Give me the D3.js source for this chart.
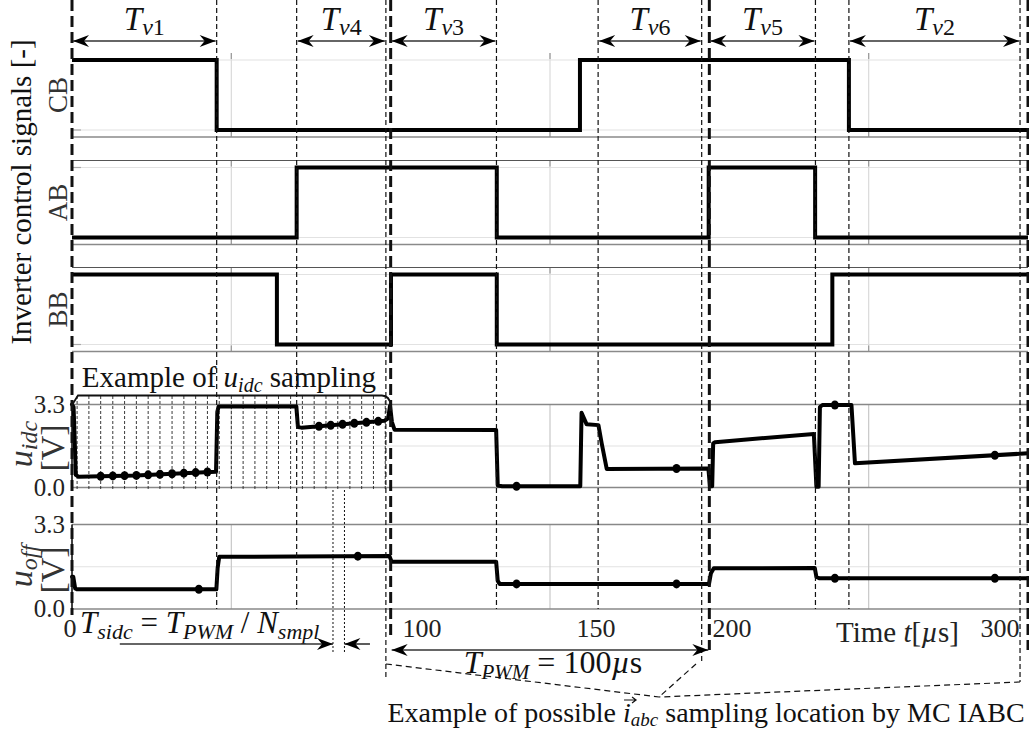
<!DOCTYPE html>
<html>
<head>
<meta charset="utf-8">
<script src="https://cdn.jsdelivr.net/npm/d3@7"></script>
<style>
  body { margin: 0; background: #fff; }
  svg { display: block; }
  text { font-family: "Liberation Serif", "Times New Roman", Times, "DejaVu Serif", serif; fill: #111; }
</style>
</head>
<body>
<svg id="chart" width="1029" height="731" font-family="Liberation Serif, Times New Roman, serif"></svg>
<script>
// ---------- data (time in µs, voltages in V) ----------
const timeDomain = [0, 300];
const gridTimes = [50, 150, 250];
const pwmBoundaries = [0, 100, 200, 300];
const switchTimes = [45.4, 70.5, 98.5, 133.2, 165.1, 197.6, 233.3, 243.8, 297.5];

const vectorNames = ["v1", "v4", "v3", "v6", "v5", "v2"];
const vectorStart = [0, 70.5, 100, 165.1, 200, 243.8];
const vectorEnd = [45.4, 98.5, 133.2, 197.6, 233.3, 297.5];

const gateNames = ["CB", "AB", "BB"];
// step signals as [time, level] (level held until next point)
const cbSignal = [[0, 1], [45.4, 0], [159.4, 1], [243.8, 0], [300, 0]];
const abSignal = [[0, 0], [70.5, 1], [133.3, 0], [199.8, 1], [233.2, 0], [300, 0]];
const bbSignal = [[0, 1], [64.3, 0], [100.1, 1], [133.3, 0], [238.6, 1], [300, 1]];

// DC-link current sensor voltage u_idc
const uIdc = [
  [0, 3.3], [0.5, 3.2], [1.2, 0.5], [2, 0.43], [20, 0.48], [40, 0.6], [45.2, 0.63],
  [45.6, 3.0], [46.0, 3.22], [70.4, 3.22], [70.9, 2.4], [72, 2.38], [98, 2.65],
  [99.2, 2.75], [99.8, 3.25], [100.4, 2.6], [101.2, 2.3], [133.1, 2.29],
  [133.6, 0.08], [135, 0.05], [159.5, 0.05], [159.9, 2.97], [161.5, 2.51],
  [165.2, 2.48], [166.2, 1.77], [167.8, 0.74], [199.7, 0.76], [200.2, 0.05],
  [200.9, 0.05], [201.2, 1.75], [201.8, 1.8], [232.8, 2.13], [233.6, 0.03],
  [234.3, 0.03], [234.7, 3.2], [235.5, 3.28], [244.6, 3.28], [245.7, 0.96],
  [300, 1.36]
];
// offset voltage u_off
const uOff = [
  [0, 1.26], [0.4, 1.26], [1.0, 0.8], [1.5, 0.77], [45.3, 0.77], [45.7, 1.6],
  [46.2, 2.04], [70, 2.05], [99.6, 2.07], [100.3, 1.85], [133.1, 1.85],
  [133.6, 1.1], [134.2, 0.98], [199.9, 0.98], [200.5, 1.4], [201.4, 1.59],
  [233.1, 1.6], [233.6, 1.25], [234.6, 1.2], [300, 1.2]
];

// u_idc sampling instants (T_sidc spacing) over the first PWM period
const sampleTimes = [1.6, 5.3, 9.0, 12.8, 16.5, 20.2, 23.9, 27.6, 31.4, 35.1, 38.8,
  42.5, 46.2, 50.0, 53.7, 57.4, 61.1, 64.8, 68.6, 72.3, 76.0, 79.7, 83.4, 87.2,
  90.9, 94.6, 98.3];
const uIdcDotTimes = [9.0, 12.8, 16.5, 20.2, 23.9, 27.6, 31.4, 35.1, 38.8, 42.5,
  77.5, 81.2, 84.9, 88.6, 92.4, 96.1, 139.5, 189.7, 239.4, 289.6];
const uOffDotTimes = [39.8, 89.7, 139.5, 189.7, 239.4, 289.6];
const sidcMarkTimes = [81.9, 85.5];

const voltTicks = ["0.0", "3.3"];
const voltMax = 3.3;
const timeTickLabels = ["0", "100", "150", "200", "300"];

// ---------- layout ----------
const svg = d3.select("#chart");
const x = d3.scaleLinear().domain(timeDomain).range([72, 1028]);
const digitalTops = [53, 160.5, 267.5];
const digitalH = 84;
const idcY = d3.scaleLinear().domain([0, voltMax]).range([487.5, 404.5]);
const offY = d3.scaleLinear().domain([0, voltMax]).range([609, 524.5]);

function valueAt(series, t) {
  for (let i = 1; i < series.length; i++) {
    if (t <= series[i][0]) {
      const [t0, v0] = series[i - 1], [t1, v1] = series[i];
      return v0 + (v1 - v0) * (t - t0) / (t1 - t0);
    }
  }
  return series[series.length - 1][1];
}

const gridG = svg.append("g");
const markG = svg.append("g");
const annG = svg.append("g");

// ---------- digital panels ----------
const gateData = [cbSignal, abSignal, bbSignal];
gateNames.forEach((name, i) => {
  const top = digitalTops[i], bot = top + digitalH;
  const y = d3.scaleLinear().domain([-0.1, 1.1]).range([bot, top]);
  [0, 1].forEach(v => gridG.append("line").attr("x1", x(0)).attr("x2", x(300))
    .attr("y1", y(v)).attr("y2", y(v)).attr("stroke", "#e2e2e2").attr("stroke-width", 1.2));
  gridTimes.forEach(t => {
    gridG.append("line").attr("x1", x(t)).attr("x2", x(t)).attr("y1", top).attr("y2", bot)
      .attr("stroke", "#dadada").attr("stroke-width", 1.2);
    [top, bot - 6].forEach(yy => gridG.append("line").attr("x1", x(t)).attr("x2", x(t))
      .attr("y1", yy).attr("y2", yy + 6).attr("stroke", "#999").attr("stroke-width", 1.2));
  });
  [0, 1].forEach(v => gridG.append("line").attr("x1", x(0)).attr("x2", x(0) + 9)
    .attr("y1", y(v)).attr("y2", y(v)).attr("stroke", "#aaa").attr("stroke-width", 1.2));
  gridG.append("line").attr("x1", x(0)).attr("x2", x(300)).attr("y1", bot).attr("y2", bot)
    .attr("stroke", "#8a8a8a").attr("stroke-width", 1.3);
  if (i > 0) gridG.append("line").attr("x1", x(0)).attr("x2", x(300)).attr("y1", top).attr("y2", top)
    .attr("stroke", "#555").attr("stroke-width", 1.1);
  markG.append("path").datum(gateData[i])
    .attr("d", d3.line().x(d => x(d[0])).y(d => y(d[1])).curve(d3.curveStepAfter))
    .attr("fill", "none").attr("stroke", "#000").attr("stroke-width", 4);
  annG.append("text").attr("transform", `translate(67,${(top + bot) / 2}) rotate(-90)`)
    .attr("text-anchor", "middle").attr("font-size", 27).style("fill", "#333").text(name);
});

// ---------- analog panels ----------
function analogPanel(y, series, dotTimes, sym, sub, labelY) {
  const top = y(voltMax), bot = y(0);
  gridG.append("line").attr("x1", x(0)).attr("x2", x(300)).attr("y1", y(voltMax / 2)).attr("y2", y(voltMax / 2))
    .attr("stroke", "#e2e2e2").attr("stroke-width", 1.2);
  gridTimes.forEach(t => gridG.append("line").attr("x1", x(t)).attr("x2", x(t)).attr("y1", top).attr("y2", bot)
    .attr("stroke", "#c8c8c8").attr("stroke-width", 1.2));
  [0, voltMax].forEach(v => gridG.append("line").attr("x1", x(0)).attr("x2", x(300)).attr("y1", y(v)).attr("y2", y(v))
    .attr("stroke", "#888").attr("stroke-width", 1.3));
  gridG.append("line").attr("x1", x(0)).attr("x2", x(0)).attr("y1", top).attr("y2", bot)
    .attr("stroke", "#000").attr("stroke-width", 1.5);
  voltTicks.forEach(s => annG.append("text").attr("x", 65).attr("y", y(+s) + 8)
    .attr("text-anchor", "end").attr("font-size", 25).style("fill", "#222").text(s));
  markG.append("path").datum(series)
    .attr("d", d3.line().x(d => x(d[0])).y(d => y(d[1])))
    .attr("fill", "none").attr("stroke", "#000").attr("stroke-width", 4)
    .attr("stroke-linejoin", "round").attr("stroke-linecap", "round");
  markG.selectAll(null).data(dotTimes).enter().append("ellipse")
    .attr("cx", t => x(t)).attr("cy", t => y(valueAt(series, t)))
    .attr("rx", 4).attr("ry", 4.5).attr("fill", "#000");
  const g = annG.append("g").attr("transform", `translate(0,${labelY}) rotate(-90)`);
  const t1 = g.append("text").attr("x", 0).attr("y", 32).attr("text-anchor", "middle").style("fill", "#333");
  t1.append("tspan").attr("font-size", 34).attr("font-style", "italic").text(sym);
  t1.append("tspan").attr("font-size", 24).attr("font-style", "italic").attr("dy", 5).text(sub);
  g.append("text").attr("x", -4).attr("y", 64).attr("text-anchor", "middle").attr("font-size", 34)
    .style("fill", "#333").text("[V]");
}
analogPanel(idcY, uIdc, uIdcDotTimes, "u", "idc", 444);
analogPanel(offY, uOff, uOffDotTimes, "u", "off", 566);

// u_idc sampling lines
gridG.selectAll(null).data(sampleTimes).enter().append("line")
  .attr("x1", t => x(t)).attr("x2", t => x(t)).attr("y1", 396).attr("y2", 490)
  .attr("stroke", "#222").attr("stroke-width", 0.9).attr("stroke-dasharray", "3,2");

// ---------- vertical switching markers ----------
const thinEnd = { 98.5: 680, 197.6: 662, 297.5: 682 };
annG.selectAll(null).data(switchTimes).enter().append("line")
  .attr("x1", t => x(t)).attr("x2", t => x(t)).attr("y1", 0).attr("y2", t => thinEnd[t] || 609)
  .attr("stroke", "#111").attr("stroke-width", 1.2).attr("stroke-dasharray", "5,3");
const heavyEnd = [615, 635, 650, 650];
annG.selectAll(null).data(pwmBoundaries).enter().append("line")
  .attr("x1", t => x(t)).attr("x2", t => x(t)).attr("y1", 0).attr("y2", (t, i) => heavyEnd[i])
  .attr("stroke", "#111").attr("stroke-width", 3).attr("stroke-dasharray", "11,5");
annG.selectAll(null).data(sidcMarkTimes).enter().append("line")
  .attr("x1", t => x(t)).attr("x2", t => x(t)).attr("y1", 490).attr("y2", 652)
  .attr("stroke", "#111").attr("stroke-width", 1).attr("stroke-dasharray", "2,2");

// ---------- arrows ----------
function arrowHead(px, py, dir) {
  annG.append("path")
    .attr("d", `M${px},${py} L${px - dir * 16},${py - 6} L${px - dir * 11},${py} L${px - dir * 16},${py + 6} Z`)
    .attr("fill", "#000");
}
function hArrow(x1, x2, y, left, right) {
  annG.append("line").attr("x1", x1).attr("x2", x2).attr("y1", y).attr("y2", y)
    .attr("stroke", "#333").attr("stroke-width", 1.6);
  if (left) arrowHead(x1, y, -1);
  if (right) arrowHead(x2, y, 1);
}

vectorNames.forEach((n, i) => {
  const a = x(vectorStart[i]) + 1, b = x(vectorEnd[i]) - 1;
  hArrow(a, b, 41, true, true);
  const t = annG.append("text").attr("x", (a + b) / 2).attr("y", 30).attr("text-anchor", "middle");
  t.append("tspan").attr("font-size", 33).attr("font-style", "italic").text("T");
  t.append("tspan").attr("font-size", 24).attr("font-style", "italic").attr("dy", 5).text(n[0]);
  t.append("tspan").attr("font-size", 24).text(n.slice(1));
});

// u_idc sampling bracket
annG.append("path")
  .attr("d", `M${x(0)},405 L${x(0) + 6},395.5 L${x(98.5) - 4},395.5 Q${x(100) - 1},396 ${x(100)},405`)
  .attr("fill", "none").attr("stroke", "#111").attr("stroke-width", 1.8);
{
  const t = annG.append("text").attr("x", 229).attr("y", 387).attr("text-anchor", "middle").attr("font-size", 29);
  t.append("tspan").text("Example of ");
  t.append("tspan").attr("font-style", "italic").text("u");
  t.append("tspan").attr("font-style", "italic").attr("font-size", 20).attr("dy", 5).text("idc");
  t.append("tspan").attr("dy", -5).text(" sampling");
}

// ---------- time axis labels ----------
const tickLabelX = [70, 422, 596, 732, 1000];
timeTickLabels.forEach((s, i) => annG.append("text").attr("x", tickLabelX[i]).attr("y", 637)
  .attr("text-anchor", "middle").attr("font-size", 26).style("fill", "#222").text(s));
{
  const t = annG.append("text").attr("x", 836).attr("y", 642).attr("font-size", 29).style("fill", "#222");
  t.append("tspan").text("Time ");
  t.append("tspan").attr("font-style", "italic").text("t");
  t.append("tspan").text("[");
  t.append("tspan").attr("font-style", "italic").text("µ");
  t.append("tspan").text("s]");
}
{
  const t = annG.append("text").attr("x", 80).attr("y", 633).attr("font-size", 31);
  t.append("tspan").attr("font-style", "italic").text("T");
  t.append("tspan").attr("font-style", "italic").attr("font-size", 22).attr("dy", 6).text("sidc");
  t.append("tspan").attr("dy", -6).text(" = ");
  t.append("tspan").attr("font-style", "italic").text("T");
  t.append("tspan").attr("font-style", "italic").attr("font-size", 22).attr("dy", 6).text("PWM");
  t.append("tspan").attr("dy", -6).text(" / ");
  t.append("tspan").attr("font-style", "italic").text("N");
  t.append("tspan").attr("font-style", "italic").attr("font-size", 22).attr("dy", 6).text("smpl");
}
hArrow(x(15), x(sidcMarkTimes[0]), 644, false, true);
hArrow(x(sidcMarkTimes[1]), x(93.5), 644, true, false);

hArrow(x(100) + 1, x(200) - 1, 650, true, true);
{
  const t = annG.append("text").attr("x", 553).attr("y", 673).attr("text-anchor", "middle").attr("font-size", 32);
  t.append("tspan").attr("font-style", "italic").text("T");
  t.append("tspan").attr("font-style", "italic").attr("font-size", 21).attr("dy", 6).text("PWM");
  t.append("tspan").attr("dy", -6).text(" = 100");
  t.append("tspan").attr("font-style", "italic").text("µ");
  t.append("tspan").text("s");
}

// possible i_abc sampling locations
const meet = [659, 697];
[[x(98.5), 664], [696, 664], [x(297.5), 682]].forEach(p => annG.append("line")
  .attr("x1", p[0]).attr("y1", p[1]).attr("x2", meet[0]).attr("y2", meet[1])
  .attr("stroke", "#111").attr("stroke-width", 1.2).attr("stroke-dasharray", "6,4"));
let iSpan;
{
  const t = annG.append("text").attr("x", 706).attr("y", 722).attr("text-anchor", "middle").attr("font-size", 28);
  t.append("tspan").text("Example of possible ");
  iSpan = t.append("tspan").attr("font-style", "italic").text("i");
  t.append("tspan").attr("font-style", "italic").attr("font-size", 19).attr("dy", 4).text("abc");
  t.append("tspan").attr("dy", -4).text(" sampling location by MC IABC");
}
// vector arrow over i
{
  const bb = iSpan.node().getBBox();
  const ax = bb.x + 1, ay = 700;
  annG.append("path").attr("d", `M${ax},${ay} L${ax + 11},${ay} M${ax + 8},${ay - 3} L${ax + 12},${ay} L${ax + 8},${ay + 3}`)
    .attr("fill", "none").attr("stroke", "#111").attr("stroke-width", 1.2);
}

// axis title
annG.append("text").attr("transform", "translate(31,192) rotate(-90)")
  .attr("text-anchor", "middle").attr("font-size", 29).text("Inverter control signals [-]");
</script>
</body>
</html>
